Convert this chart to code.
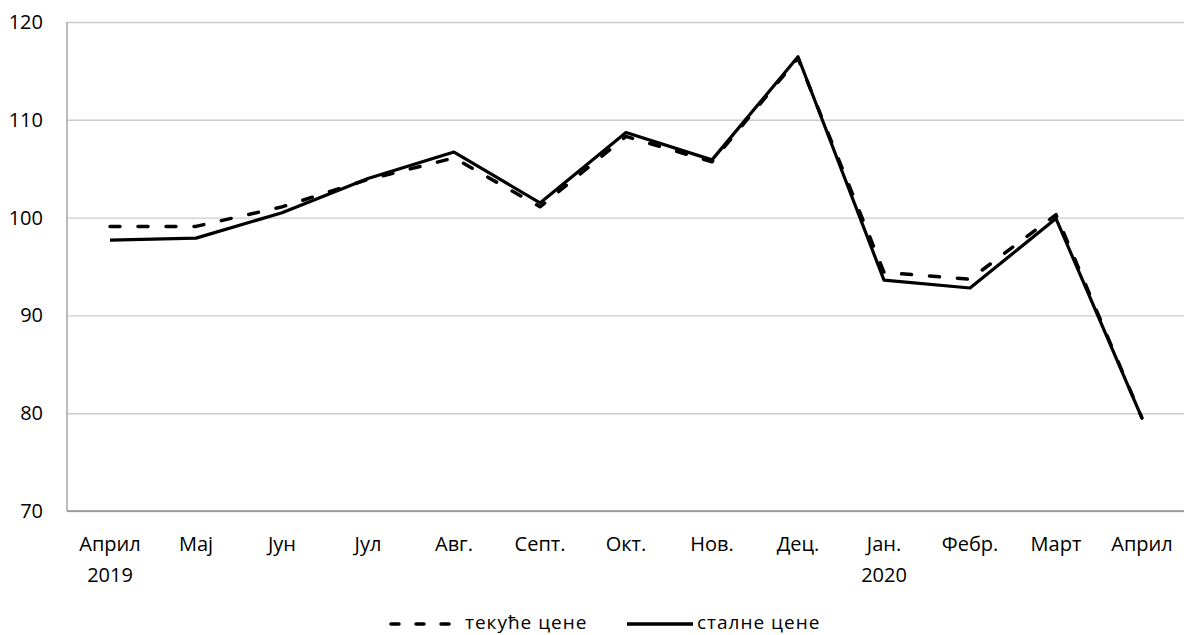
<!DOCTYPE html>
<html>
<head>
<meta charset="utf-8">
<script src="https://cdn.jsdelivr.net/npm/d3@7"></script>
<style>
  body { margin: 0; background: #fff; }
  svg { display: block; font-family: 'Open Sans', sans-serif; }
</style>
</head>
<body>
<div id="chart"></div>
<script>
// месеци (април 2019 - април 2020)
const months = ['Април', 'Мај', 'Јун', 'Јул', 'Авг.', 'Септ.', 'Окт.', 'Нов.', 'Дец.', 'Јан.', 'Фебр.', 'Март', 'Април'];
const years = ['2019', '', '', '', '', '', '', '', '', '2020', '', '', ''];

// текуће цене (испрекидана линија)
const tekuce = [99.1, 99.1, 101.1, 103.9, 106.1, 101.1, 108.3, 105.7, 116.3, 94.4, 93.7, 100.3, 79.5];
// сталне цене (пуна линија)
const stalne = [97.7, 97.9, 100.5, 104.0, 106.7, 101.5, 108.7, 105.9, 116.45, 93.6, 92.8, 99.9, 79.5];

const yTicks = [70, 80, 90, 100, 110, 120];
const seriesNames = ['текуће цене', 'сталне цене'];

const width = 1184;
const height = 635;
const margin = [22, 0, 124, 67]; // top, right, bottom, left
const [mt, mr, mb, ml] = margin;

const svg = d3
    .select('#chart')
    .append('svg')
    .attr('width', width)
    .attr('height', height)
    .attr('viewBox', [0, 0, width, height]);

const x = d3
    .scalePoint()
    .domain(d3.range(months.length))
    .range([ml, width + 1])
    .padding(0.5);

const y = d3
    .scaleLinear()
    .domain([70, 120])
    .range([height - mb, mt]);

// хоризонталне линије мреже
const yAxis = d3
    .axisLeft(y)
    .tickValues(yTicks)
    .tickSize(-(width - ml))
    .tickPadding(24);

svg.append('g')
    .attr('transform', `translate(${ml},0)`)
    .call(yAxis)
    .call((g) => g.select('.domain').remove())
    .call((g) => g.selectAll('.tick line').attr('stroke', '#cccccc').attr('stroke-width', 1.4))
    .call((g) =>
        g
            .selectAll('.tick text')
            .attr('font-size', 20)
            .attr('fill', '#000')
            .attr('font-family', "'Open Sans', sans-serif")
    );

// осе
svg.append('line')
    .attr('x1', ml).attr('x2', ml)
    .attr('y1', y(120)).attr('y2', y(70))
    .attr('stroke', '#a6a6a6').attr('stroke-width', 1.5);
svg.append('line')
    .attr('x1', ml).attr('x2', width)
    .attr('y1', y(70)).attr('y2', y(70))
    .attr('stroke', '#8c8c8c').attr('stroke-width', 1.5);

// ознаке месеци
const xLabels = svg.append('g').attr('font-size', 20).attr('text-anchor', 'middle');
xLabels.selectAll('text.month')
    .data(months)
    .join('text')
    .attr('class', 'month')
    .attr('x', (_, i) => x(i))
    .attr('y', 551)
    .text((d) => d);
xLabels.selectAll('text.year')
    .data(years)
    .join('text')
    .attr('class', 'year')
    .attr('x', (_, i) => x(i))
    .attr('y', 582)
    .text((d) => d);

// линије
const line = d3
    .line()
    .x((_, i) => x(i))
    .y((d) => y(d));

svg.append('path')
    .datum(tekuce)
    .attr('fill', 'none')
    .attr('stroke', '#000')
    .attr('stroke-width', 3.5)
    .attr('stroke-linecap', 'round')
    .attr('stroke-linejoin', 'round')
    .attr('stroke-dasharray', '10 18')
    .attr('d', line);

svg.append('path')
    .datum(stalne)
    .attr('fill', 'none')
    .attr('stroke', '#000')
    .attr('stroke-width', 3.2)
    .attr('stroke-linejoin', 'round')
    .attr('d', line);

// легенда
const legend = svg.append('g').attr('font-size', 19).attr('letter-spacing', 1);
const legendItems = [
    { name: seriesNames[0], x0: 391, x1: 460, dash: '8 17', tx: 465 },
    { name: seriesNames[1], x0: 627, x1: 693, dash: null, tx: 697 }
];
legendItems.forEach((d) => {
    legend.append('line')
        .attr('x1', d.x0).attr('x2', d.x1)
        .attr('y1', 624).attr('y2', 624)
        .attr('stroke', '#000')
        .attr('stroke-width', 3.5)
        .attr('stroke-linecap', d.dash ? 'round' : 'butt')
        .attr('stroke-dasharray', d.dash);
    legend.append('text')
        .attr('x', d.tx)
        .attr('y', 629)
        .text(d.name);
});
</script>
</body>
</html>
